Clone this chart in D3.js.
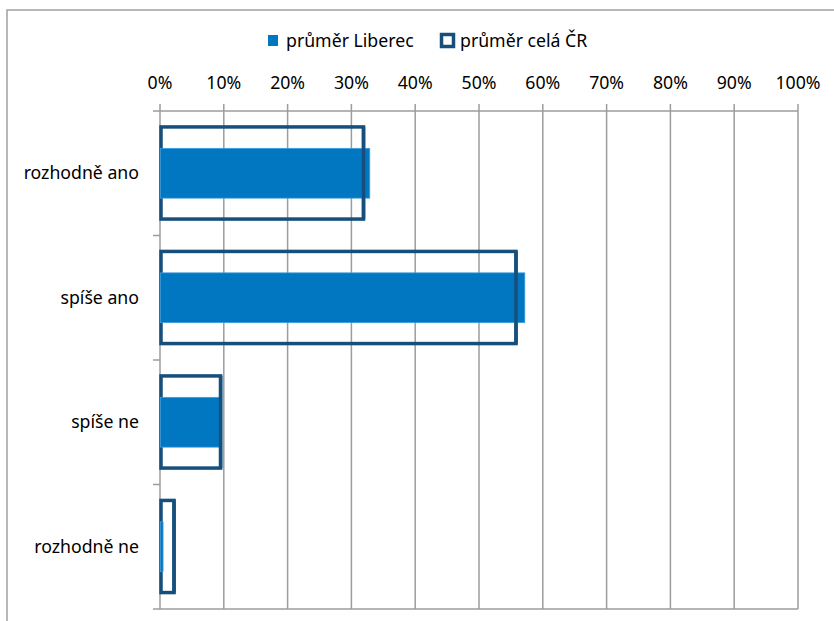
<!DOCTYPE html>
<html>
<head>
<meta charset="utf-8">
<script src="https://cdn.jsdelivr.net/npm/d3@7"></script>
<style>
  body { margin: 0; background: #fff; }
  svg text { font-family: "Noto Sans", "Open Sans", sans-serif; fill: #000; font-size: 17.7px; }
</style>
</head>
<body>
<div id="chart"></div>
<script>
// data (share of answers, %)
const categories = ['rozhodně ano', 'spíše ano', 'spíše ne', 'rozhodně ne'];
const liberec = [32.8, 57.1, 9.3, 0.4];
const celaCR = [31.9, 55.8, 9.5, 2.2];
const tickValues = [0, 10, 20, 30, 40, 50, 60, 70, 80, 90, 100];
const seriesNames = ['průměr Liberec', 'průměr celá ČR'];

const width = 834, height = 621;
const margin = { top: 111, right: 36, bottom: 12, left: 160 };

const svg = d3.select('#chart').append('svg')
	.attr('width', width)
	.attr('height', height);

// outer chart border (only top and left are inside the picture)
svg.append('path')
	.attr('d', 'M7,' + height + ' V10 H' + (width + 5))
	.attr('fill', 'none')
	.attr('stroke', '#a0a0a0')
	.attr('stroke-width', 1.5);

const x = d3.scaleLinear()
	.domain([0, 100])
	.range([margin.left, width - margin.right]);

const y = d3.scaleBand()
	.domain(categories)
	.range([margin.top, height - margin.bottom])
	.padding(0);

const grid = svg.append('g').attr('class', 'grid');

// vertical gridlines + ticks above the top axis
grid.selectAll('line.v')
	.data(tickValues)
	.join('line')
	.attr('class', 'v')
	.attr('x1', d => x(d)).attr('x2', d => x(d))
	.attr('y1', margin.top - 7).attr('y2', height - margin.bottom)
	.attr('stroke', '#9c9c9c')
	.attr('stroke-width', 1.5);

// horizontal category boundaries (top axis, ticks, bottom line)
const bounds = categories.map(c => y(c)).concat([y.range()[1]]);
grid.selectAll('line.h')
	.data(bounds)
	.join('line')
	.attr('class', 'h')
	.attr('x1', margin.left - 7)
	.attr('x2', (d, i) => (i === 0 || i === bounds.length - 1) ? x(100) : margin.left)
	.attr('y1', d => d).attr('y2', d => d)
	.attr('stroke', '#9c9c9c')
	.attr('stroke-width', 1.5);

// tick labels on top
svg.append('g').selectAll('text')
	.data(tickValues)
	.join('text')
	.attr('x', d => x(d))
	.attr('y', 89)
	.attr('text-anchor', 'middle')
	.text(d => d + '%');

// category labels
svg.append('g').selectAll('text')
	.data(categories)
	.join('text')
	.attr('x', 139)
	.attr('y', d => y(d) + y.bandwidth() / 2 + 6)
	.attr('text-anchor', 'end')
	.text(d => d);

const bw = y.bandwidth();
const sw = 3.5;

// celá ČR - outlined bars
svg.append('g').selectAll('rect')
	.data(categories)
	.join('rect')
	.attr('x', x(0) + 1)
	.attr('y', d => y(d) + bw * 0.128)
	.attr('width', (d, i) => x(celaCR[i]) - x(0) - 1)
	.attr('height', bw * 0.74)
	.attr('fill', 'none')
	.attr('stroke', '#164f7b')
	.attr('stroke-width', sw);

// Liberec - filled bars
svg.append('g').selectAll('rect')
	.data(categories)
	.join('rect')
	.attr('x', x(0) + 0.5)
	.attr('y', d => y(d) + bw * 0.3)
	.attr('width', (d, i) => x(liberec[i]) - x(0))
	.attr('height', bw * 0.4)
	.attr('fill', '#0077c0')
	.attr('stroke', '#3d9ede')
	.attr('stroke-width', 0.8);

// right edges of the outlined bars stay on top of the filled bars
svg.append('g').selectAll('line')
	.data(categories)
	.join('line')
	.attr('x1', (d, i) => x(celaCR[i])).attr('x2', (d, i) => x(celaCR[i]))
	.attr('y1', d => y(d) + bw * 0.128).attr('y2', d => y(d) + bw * 0.868)
	.attr('stroke', '#164f7b')
	.attr('stroke-width', sw);

// legend
const legend = svg.append('g');
legend.append('rect')
	.attr('x', 268).attr('y', 35)
	.attr('width', 10).attr('height', 11)
	.attr('fill', '#0077c0');
legend.append('text')
	.attr('x', 286).attr('y', 47)
	.text(seriesNames[0]);
legend.append('rect')
	.attr('x', 441.5).attr('y', 34.5)
	.attr('width', 12).attr('height', 12)
	.attr('fill', '#fff')
	.attr('stroke', '#164f7b')
	.attr('stroke-width', 3.5);
legend.append('text')
	.attr('x', 460).attr('y', 47)
	.text(seriesNames[1]);
</script>
</body>
</html>
